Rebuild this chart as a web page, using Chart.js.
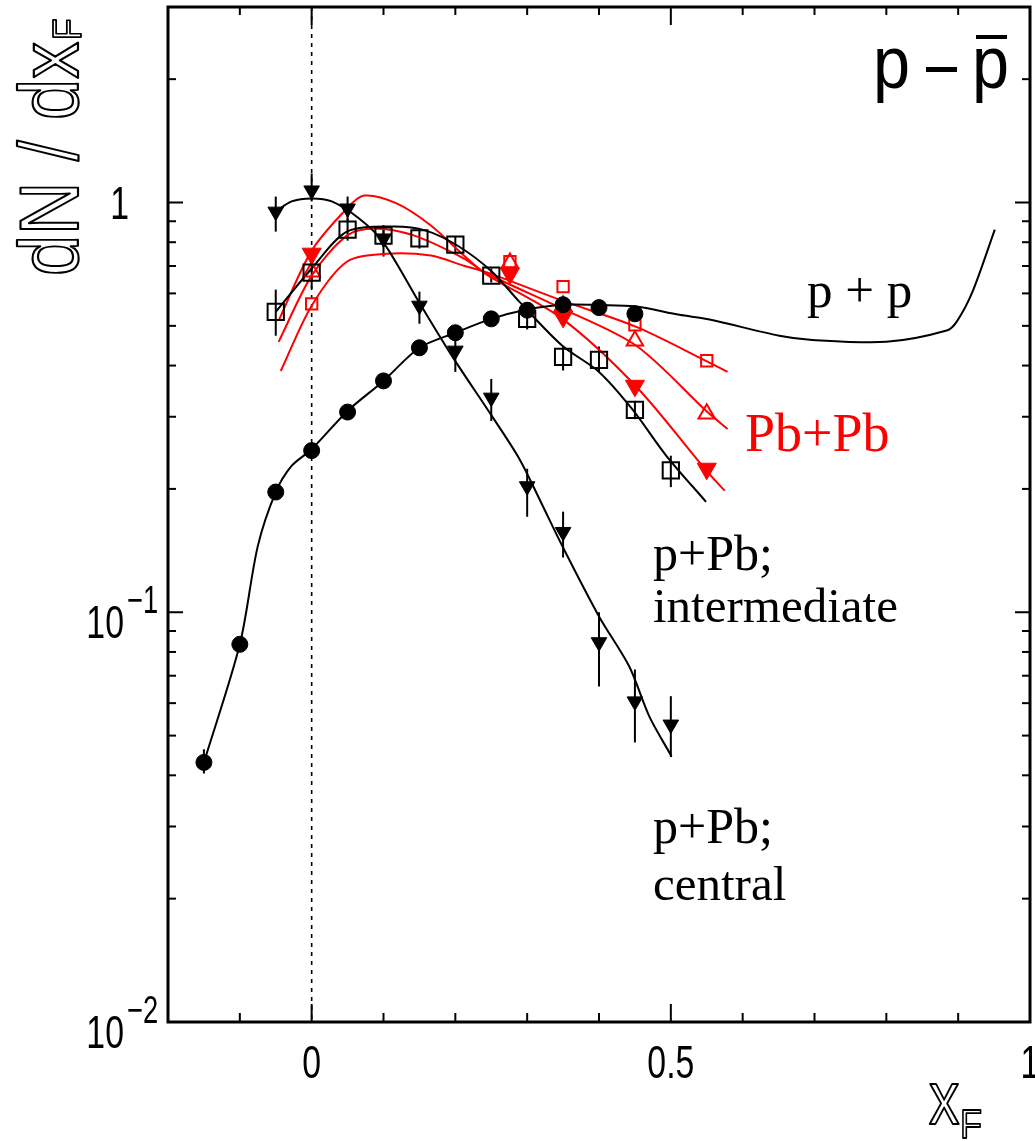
<!DOCTYPE html>
<html>
<head>
<meta charset="utf-8">
<script src="https://cdn.jsdelivr.net/npm/chart.js@4.4.1/dist/chart.umd.min.js"></script>
<style>
  html, body { margin: 0; padding: 0; background: #fff; }
  #c { display: block; }
</style>
</head>
<body>
<canvas id="c" width="1035" height="1141"></canvas>
<script>
// ---------------------------------------------------------------------------
// Data: dN/dxF of anti-protons vs xF
// ---------------------------------------------------------------------------

// p+p (filled circles)
const ppX  = [-0.15, -0.1, -0.05, 0, 0.05, 0.1, 0.15, 0.2, 0.25, 0.3, 0.35, 0.4, 0.45];
const ppY  = [0.043, 0.0835, 0.1965, 0.248, 0.308, 0.367, 0.442, 0.481, 0.52, 0.546, 0.563, 0.554, 0.535];
const ppLo = [0.0404, 0.080, 0.190, 0.241, 0.300, 0.359, 0.434, 0.472, 0.511, 0.537, 0.553, 0.545, 0.525];
const ppHi = [0.0463, 0.087, 0.203, 0.255, 0.316, 0.375, 0.450, 0.490, 0.529, 0.555, 0.573, 0.563, 0.545];
const ppCurveX = [-0.15, -0.1, -0.075, -0.05, -0.028, 0, 0.05, 0.1, 0.15, 0.2, 0.25, 0.3, 0.35, 0.4, 0.45,
                  0.512, 0.554, 0.651, 0.697, 0.8, 0.884, 0.898, 0.92, 0.951];
const ppCurveY = [0.043, 0.0835, 0.145, 0.1965, 0.2275, 0.25, 0.31, 0.367, 0.442, 0.481, 0.52, 0.548, 0.563, 0.562, 0.558,
                  0.532, 0.518, 0.473, 0.462, 0.457, 0.487, 0.512, 0.606, 0.859];

// p+Pb intermediate (open squares)
const intX  = [-0.05, 0, 0.05, 0.1, 0.15, 0.2, 0.25, 0.3, 0.35, 0.4, 0.45, 0.5];
const intY  = [0.541, 0.674, 0.859, 0.830, 0.817, 0.789, 0.663, 0.520, 0.420, 0.413, 0.312, 0.222];
const intLo = [0.473, 0.616, 0.807, 0.780, 0.772, 0.755, 0.638, 0.490, 0.389, 0.387, 0.296, 0.202];
const intHi = [0.613, 0.742, 0.914, 0.880, 0.854, 0.826, 0.690, 0.550, 0.445, 0.445, 0.328, 0.241];
const intCurveX = [-0.05, 0, 0.049, 0.112, 0.159, 0.205, 0.251, 0.289, 0.349, 0.4, 0.446, 0.494, 0.549];
const intCurveY = [0.541, 0.69, 0.849, 0.874, 0.854, 0.781, 0.678, 0.573, 0.447, 0.386, 0.3135, 0.2406, 0.186];

// p+Pb central (filled down triangles)
const cenX  = [-0.05, 0, 0.05, 0.1, 0.15, 0.2, 0.25, 0.3, 0.35, 0.4, 0.45, 0.5];
const cenY  = [0.95, 1.07, 0.967, 0.817, 0.56, 0.435, 0.334, 0.203, 0.157, 0.0845, 0.0606, 0.0532];
const cenLo = [0.849, 1.006, 0.904, 0.738, 0.506, 0.386, 0.293, 0.171, 0.136, 0.0659, 0.0481, 0.0443];
const cenHi = [1.034, 1.177, 1.034, 0.878, 0.606, 0.473, 0.371, 0.224, 0.176, 0.100, 0.0725, 0.0624];
const cenCurveX = [-0.05, -0.028, 0, 0.028, 0.066, 0.099, 0.149, 0.195, 0.251, 0.289, 0.317, 0.349, 0.4, 0.442, 0.47, 0.501];
const cenCurveY = [0.95, 1.006, 1.023, 1.006, 0.914, 0.803, 0.573, 0.423, 0.301, 0.237, 0.189, 0.145, 0.0977, 0.0738, 0.0557, 0.0445];

// Pb+Pb (red): three centrality classes
const pbX     = [0, 0.276, 0.35, 0.45, 0.55];
const pbSqY   = [0.566, 0.717, 0.623, 0.503, 0.411];
const pbTriY  = [0.678, 0.712, 0.56, 0.46, 0.305];
const pbTriDY = [0.75, 0.671, 0.526, 0.357, 0.224];
const pbSqCurveX   = [-0.043, 0, 0.049, 0.105, 0.166, 0.212, 0.243, 0.349, 0.452, 0.551, 0.579];
const pbSqCurveY   = [0.388, 0.56, 0.717, 0.75, 0.742, 0.701, 0.676, 0.576, 0.497, 0.409, 0.386];
const pbTriCurveX  = [-0.046, 0, 0.049, 0.086, 0.143, 0.212, 0.243, 0.349, 0.452, 0.551, 0.579];
const pbTriCurveY  = [0.457, 0.663, 0.83, 0.864, 0.83, 0.73, 0.672, 0.551, 0.447, 0.308, 0.28];
const pbTriDCurveX = [-0.046, 0, 0.049, 0.073, 0.119, 0.166, 0.212, 0.243, 0.349, 0.452, 0.551, 0.575];
const pbTriDCurveY = [0.515, 0.763, 0.967, 1.04, 0.994, 0.879, 0.742, 0.668, 0.52, 0.355, 0.22, 0.198];

// Axes
const xMin = -0.2, xMax = 1.0;
const yMin = 0.01, yMax = 3.0;
const xMajorTicks = [0, 0.5, 1];
const xMinorTicks = [-0.1, 0.1, 0.2, 0.3, 0.4, 0.6, 0.7, 0.8, 0.9];
const xTickLabels = ['0', '0.5', '1'];
const yMajorTicks = [0.01, 0.1, 1];
const yMinorTicks = [0.02, 0.03, 0.04, 0.05, 0.06, 0.07, 0.08, 0.09,
                     0.2, 0.3, 0.4, 0.5, 0.6, 0.7, 0.8, 0.9, 2, 3];
const yTickBase = ['10', '10', '1'];
const yTickExp  = ['\u22122', '\u22121', ''];
const refLineX = 0;

// ---------------------------------------------------------------------------

const BLACK = '#000000';
const RED = '#ff0000';
const SANS = "'Liberation Sans', Arial, Helvetica, sans-serif";
const SERIF = "'Liberation Serif', 'Times New Roman', serif";

function pts(xs, ys) {
  return xs.map((x, i) => ({ x, y: ys[i] }));
}

function curve(xs, ys, color) {
  return {
    data: pts(xs, ys),
    showLine: true,
    borderColor: color,
    borderWidth: 2,
    pointRadius: 0,
    tension: 0.3,
    fill: false,
    order: 2,
  };
}

function txt(ctx, s, x, y, font, color, sx = 1, align = 'left') {
  ctx.save();
  ctx.font = font;
  ctx.fillStyle = color;
  ctx.textAlign = align;
  ctx.textBaseline = 'alphabetic';
  ctx.translate(x, y);
  ctx.scale(sx, 1);
  ctx.fillText(s, 0, 0);
  ctx.restore();
}

// hollow (outlined) text, like the ROOT axis titles
function outline(ctx, s, font, lw) {
  ctx.font = font;
  ctx.lineWidth = lw;
  ctx.strokeStyle = BLACK;
  ctx.lineJoin = 'round';
  ctx.strokeText(s, 0, 0);
}

// Reference line, error bars, frame, ticks and all the text, ROOT style
const rootStyle = {
  id: 'rootStyle',
  beforeDatasetsDraw(chart) {
    const { ctx, chartArea: a, scales: { x, y } } = chart;
    ctx.save();
    ctx.strokeStyle = BLACK;
    ctx.lineWidth = 1.6;
    ctx.setLineDash([4, 5]);
    const px = x.getPixelForValue(refLineX);
    ctx.beginPath();
    ctx.moveTo(px, a.top);
    ctx.lineTo(px, a.bottom);
    ctx.stroke();
    ctx.restore();

    chart.data.datasets.forEach(ds => {
      if (!ds.errLo) return;
      ctx.save();
      ctx.strokeStyle = ds.borderColor;
      ctx.lineWidth = 2;
      ds.data.forEach((p, j) => {
        const xp = x.getPixelForValue(p.x);
        ctx.beginPath();
        ctx.moveTo(xp, y.getPixelForValue(ds.errHi[j]));
        ctx.lineTo(xp, y.getPixelForValue(ds.errLo[j]));
        ctx.stroke();
      });
      ctx.restore();
    });
  },
  afterDraw(chart) {
    const { ctx, chartArea: a, scales: { x, y } } = chart;
    ctx.save();
    ctx.strokeStyle = BLACK;

    // ticks (inside, on all four sides)
    ctx.lineWidth = 2;
    const tick = (x1, y1, x2, y2) => {
      ctx.beginPath(); ctx.moveTo(x1, y1); ctx.lineTo(x2, y2); ctx.stroke();
    };
    xMajorTicks.forEach(v => {
      const p = x.getPixelForValue(v);
      tick(p, a.bottom, p, a.bottom - 18);
      tick(p, a.top, p, a.top + 18);
    });
    xMinorTicks.forEach(v => {
      const p = x.getPixelForValue(v);
      tick(p, a.bottom, p, a.bottom - 9);
      tick(p, a.top, p, a.top + 8);
    });
    yMajorTicks.forEach(v => {
      const p = y.getPixelForValue(v);
      tick(a.left, p, a.left + 15, p);
      tick(a.right, p, a.right - 15, p);
    });
    yMinorTicks.forEach(v => {
      if (v > yMax) return;
      const p = y.getPixelForValue(v);
      tick(a.left, p, a.left + 8, p);
      tick(a.right, p, a.right - 8, p);
    });

    // frame
    ctx.lineWidth = 3;
    ctx.strokeRect(a.left, a.top, a.right - a.left, a.bottom - a.top);
    ctx.restore();

    // x tick labels
    xMajorTicks.forEach((v, i) => {
      txt(ctx, xTickLabels[i], x.getPixelForValue(v), 1078, `47px ${SANS}`, BLACK, 0.72, 'center');
    });
    // y tick labels (10 with superscript exponent)
    yMajorTicks.forEach((v, i) => {
      const p = y.getPixelForValue(v);
      if (yTickExp[i]) {
        txt(ctx, yTickBase[i], 124, p + 26, `47px ${SANS}`, BLACK, 0.72, 'right');
        txt(ctx, yTickExp[i], 127, p + 1, `38px ${SANS}`, BLACK, 0.72, 'left');
      } else {
        txt(ctx, yTickBase[i], 129, p + 16, `47px ${SANS}`, BLACK, 0.72, 'right');
      }
    });

    // axis titles (outlined glyphs)
    ctx.save();
    ctx.translate(78, 276);
    ctx.rotate(-Math.PI / 2);
    ctx.scale(0.88, 1);
    outline(ctx, 'dN / dx', `84px ${SANS}`, 2.2);
    ctx.font = `84px ${SANS}`;
    const w = ctx.measureText('dN / dx').width;
    ctx.translate(w + 2, 3);
    outline(ctx, 'F', `40px ${SANS}`, 1.8);
    ctx.restore();

    ctx.save();
    ctx.translate(929, 1124);
    ctx.scale(0.8, 1);
    outline(ctx, 'x', `76px ${SANS}`, 2.2);
    ctx.restore();
    ctx.save();
    ctx.translate(960, 1138);
    ctx.scale(0.9, 1);
    outline(ctx, 'F', `40px ${SANS}`, 1.8);
    ctx.restore();

    // p - pbar
    txt(ctx, 'p', 873, 88, `74px ${SANS}`, BLACK, 0.9);
    txt(ctx, 'p', 972, 88, `74px ${SANS}`, BLACK, 0.9);
    ctx.save();
    ctx.fillStyle = BLACK;
    ctx.fillRect(926, 67, 31, 5);
    ctx.fillRect(976, 35, 31, 4);
    ctx.restore();

    // curve labels
    txt(ctx, 'p + p', 807, 307, `51px ${SERIF}`, BLACK);
    txt(ctx, 'Pb+Pb', 745, 451, `54px ${SERIF}`, RED);
    txt(ctx, 'p+Pb;', 653, 570, `50px ${SERIF}`, BLACK);
    txt(ctx, 'intermediate', 653, 622, `49px ${SERIF}`, BLACK);
    txt(ctx, 'p+Pb;', 653, 843, `50px ${SERIF}`, BLACK);
    txt(ctx, 'central', 653, 900, `49px ${SERIF}`, BLACK);
  },
};

new Chart(document.getElementById('c'), {
  type: 'scatter',
  data: {
    datasets: [
      // markers (drawn on top)
      { data: pts(ppX, ppY), errLo: ppLo, errHi: ppHi, pointStyle: 'circle', pointRadius: 8,
        backgroundColor: BLACK, borderColor: BLACK, borderWidth: 1, order: 0 },
      { data: pts(intX, intY), errLo: intLo, errHi: intHi, pointStyle: 'rect', pointRadius: 11.5,
        backgroundColor: 'rgba(0,0,0,0)', borderColor: BLACK, borderWidth: 2, order: 0 },
      { data: pts(cenX, cenY), errLo: cenLo, errHi: cenHi, pointStyle: 'triangle', pointRotation: 180,
        pointRadius: 9, backgroundColor: BLACK, borderColor: BLACK, borderWidth: 1, order: 0 },
      { data: pts(pbX, pbSqY), pointStyle: 'rect', pointRadius: 8,
        backgroundColor: 'rgba(0,0,0,0)', borderColor: RED, borderWidth: 2, order: 0 },
      { data: pts(pbX, pbTriY), pointStyle: 'triangle', pointRadius: 9.5,
        backgroundColor: 'rgba(0,0,0,0)', borderColor: RED, borderWidth: 2, order: 0 },
      { data: pts(pbX, pbTriDY), pointStyle: 'triangle', pointRotation: 180, pointRadius: 11,
        backgroundColor: RED, borderColor: RED, borderWidth: 1, order: 0 },
      // curves
      curve(ppCurveX, ppCurveY, BLACK),
      curve(intCurveX, intCurveY, BLACK),
      curve(cenCurveX, cenCurveY, BLACK),
      curve(pbSqCurveX, pbSqCurveY, RED),
      curve(pbTriCurveX, pbTriCurveY, RED),
      curve(pbTriDCurveX, pbTriDCurveY, RED),
    ],
  },
  options: {
    responsive: false,
    animation: false,
    devicePixelRatio: 1,
    events: [],
    layout: { autoPadding: false, padding: { left: 168, top: 7, right: 5, bottom: 119 } },
    plugins: { legend: { display: false }, tooltip: { enabled: false } },
    scales: {
      x: { type: 'linear', min: xMin, max: xMax, display: false },
      y: { type: 'logarithmic', min: yMin, max: yMax, display: false },
    },
  },
  plugins: [rootStyle],
});
</script>
</body>
</html>
